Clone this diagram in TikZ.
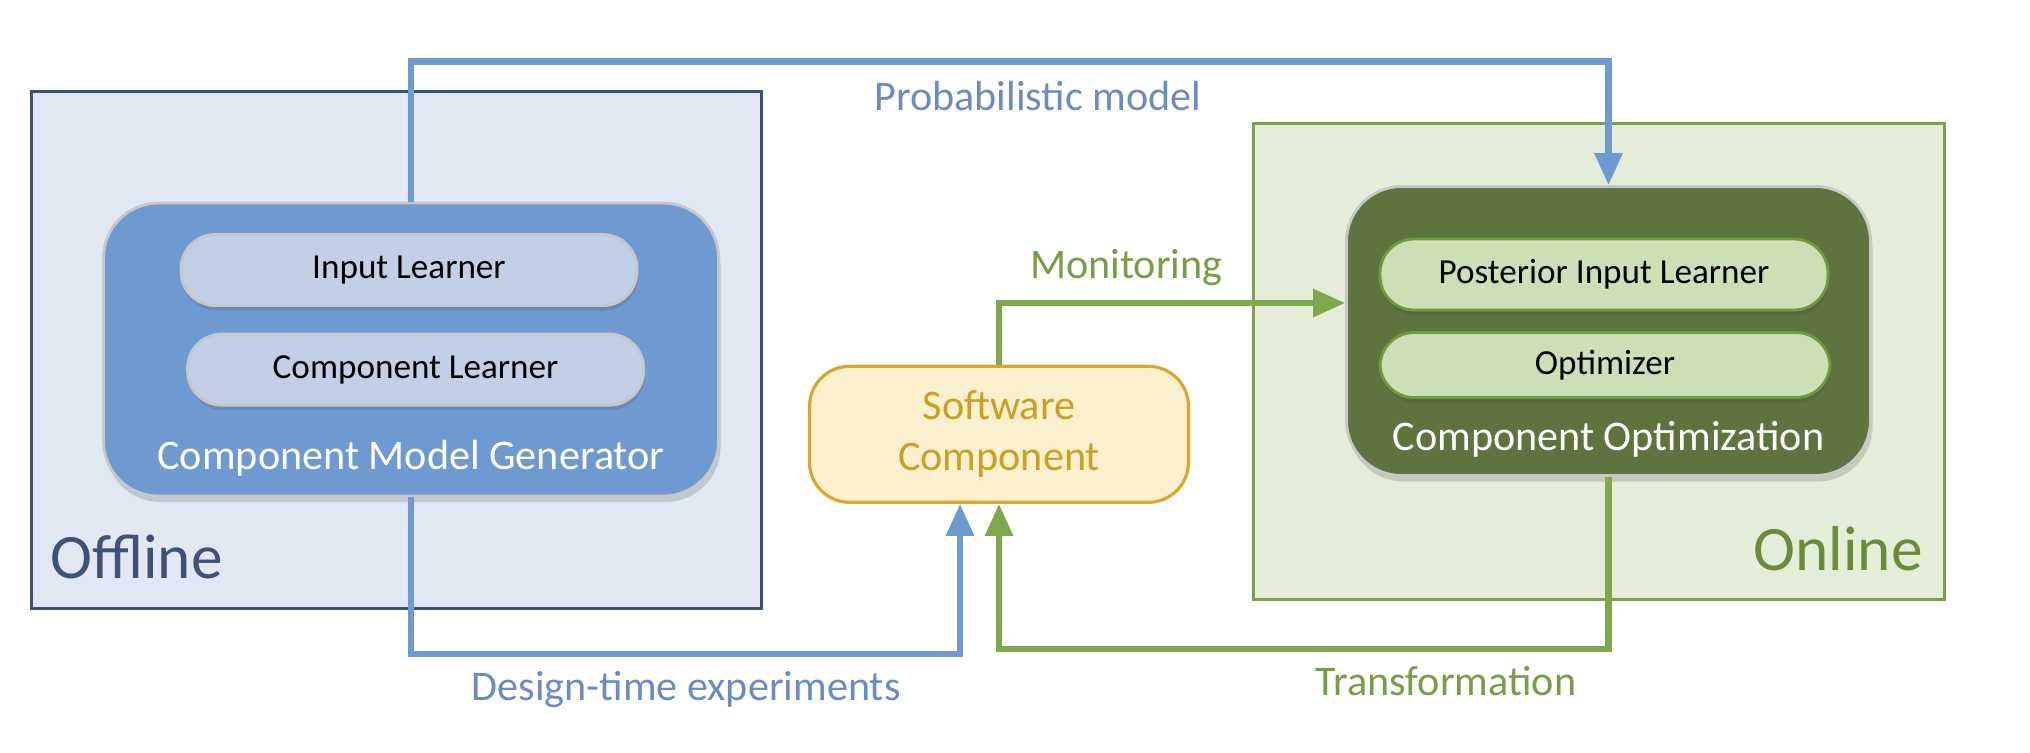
\documentclass[tikz,border=0pt]{standalone}
\usepackage{fontspec}
\setmainfont{Carlito}
\usepackage{tikz}
\usetikzlibrary{arrows.meta,positioning,shadows,backgrounds}

\definecolor{offfill}{HTML}{E1E8F3}
\definecolor{offdraw}{HTML}{3A5278}
\definecolor{offtext}{HTML}{3D5276}
\definecolor{onfill}{HTML}{E3EDD9}
\definecolor{ondraw}{HTML}{7EA04A}
\definecolor{ontext}{HTML}{6A8B38}
\definecolor{genblue}{HTML}{6F9AD1}
\definecolor{pillblue}{HTML}{C1D0E6}
\definecolor{optgreen}{HTML}{5E743F}
\definecolor{pillgreen}{HTML}{CDDFB5}
\definecolor{pillgreendraw}{HTML}{6E9A40}
\definecolor{swfill}{HTML}{FAF0CD}
\definecolor{swdraw}{HTML}{D6A92E}
\definecolor{swtext}{HTML}{C9A022}
\definecolor{flowblue}{HTML}{6F9AD1}
\definecolor{flowgreen}{HTML}{7FA74B}
\definecolor{lblblue}{HTML}{6A8CC4}
\definecolor{lblgreen}{HTML}{779D45}

\begin{document}
\begin{tikzpicture}[
font=\fontsize{12}{14.5}\selectfont,
area/.style={rectangle, line width=0.8pt, inner sep=0pt},
bigbox/.style={rectangle, rounded corners=0.55cm, draw=black!22, line width=0.8pt, inner sep=0pt,
  drop shadow={shadow xshift=0.02cm, shadow yshift=-0.06cm, opacity=0.18, fill=black!80}},
pill/.style={rectangle, rounded corners=0.34cm, line width=0.8pt, inner sep=0pt,
  minimum height=0.71cm, font=\fontsize{10}{12}\selectfont,
  drop shadow={shadow xshift=0.01cm, shadow yshift=-0.05cm, opacity=0.15, fill=black!80}},
bluepill/.style={pill, fill=pillblue, draw=black!22},
greenpill/.style={pill, fill=pillgreen, draw=pillgreendraw},
title/.style={white, font=\fontsize{12}{14.5}\selectfont},
blueflow/.style={draw=flowblue, line width=1.8pt, -{Triangle[length=0.32cm, width=0.27cm]}},
greenflow/.style={draw=flowgreen, line width=1.8pt, -{Triangle[length=0.32cm, width=0.27cm]}}
]
    \useasboundingbox (0,0) rectangle (20.3,-7.52);

    % Offline / Online areas
    \node[area, fill=offfill, draw=offdraw, minimum width=7.30cm, minimum height=5.17cm] (offarea) at (3.962,-3.502) {};
    \node[area, fill=onfill, draw=ondraw, minimum width=6.91cm, minimum height=4.76cm] (onarea) at (15.989,-3.612) {};
    \node[anchor=west, offtext, font=\fontsize{18}{20}\selectfont] (offlbl) at (0.38,-5.57) {Offline};
    \node[anchor=east, ontext, font=\fontsize{18}{20}\selectfont] (onlbl) at (19.35,-5.49) {Online};

    % Component Model Generator
    \node[bigbox, fill=genblue, minimum width=6.15cm, minimum height=2.93cm] (cmg) at (4.11,-3.495) {};
    \node[bluepill, minimum width=4.56cm] (inlearn) at (4.09,-2.70) {Input Learner};
    \node[bluepill, minimum width=4.56cm] (complearn) at (4.156,-3.696) {Component Learner};
    \node[title] (cmgtitle) at (4.11,-4.58) {Component Model Generator};

    % Component Optimization
    \node[bigbox, fill=optgreen, minimum width=5.24cm, minimum height=2.89cm] (copt) at (16.085,-3.31) {};
    \node[greenpill, minimum width=4.48cm] (postlearn) at (16.04,-2.745) {Posterior Input Learner};
    \node[greenpill, minimum width=4.50cm, minimum height=0.65cm] (optim) at (16.05,-3.65) {Optimizer};
    \node[title] (copttitle) at (16.085,-4.39) {Component Optimization};

    % Software Component
    \node[rectangle, rounded corners=0.4cm, fill=swfill, draw=swdraw, line width=0.9pt,
      minimum width=3.79cm, minimum height=1.36cm, align=center, text=swtext] (swcomp) at (9.99,-4.343)
      {Software\\Component};

    % Flows
    \draw[blueflow] (cmg.north) -- ++(0,1.40) -| (copt.north);
    \draw[greenflow] (swcomp.north) |- ([yshift=0.28cm]copt.west);
    \draw[blueflow] (cmg.south) -- ++(0,-1.567) -| ([xshift=-0.39cm]swcomp.south);
    \draw[greenflow] (copt.south) -- ++(0,-1.722) -| (swcomp.south);

    % Flow labels
    \node[lblblue] (problbl) at (10.38,-0.958) {Probabilistic model};
    \node[lblgreen] (monlbl) at (11.263,-2.68) {Monitoring};
    \node[lblblue] (designlbl) at (6.861,-6.90) {Design-time experiments};
    \node[lblgreen] (translbl) at (14.46,-6.81) {Transformation};

\end{tikzpicture}
\end{document}
